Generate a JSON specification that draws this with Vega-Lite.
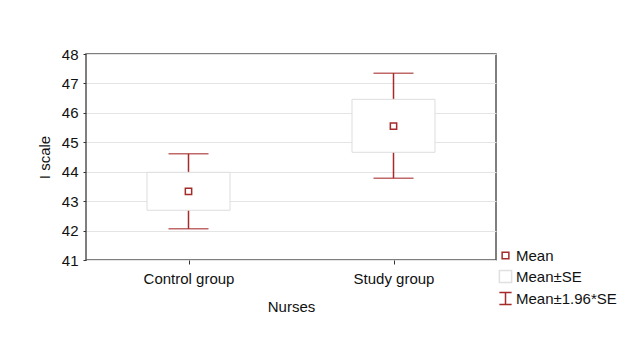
{
  "$schema": "https://vega.github.io/schema/vega-lite/v6.json",
  "width": 410,
  "height": 206,
  "autosize": {"type": "none"},
  "padding": {"left": 86, "top": 54, "right": 140, "bottom": 78},
  "config": {
    "font": "Liberation Sans",
    "view": {"stroke": "#555555", "strokeWidth": 1.5},
    "axis": {
      "labelFont": "Liberation Sans",
      "titleFont": "Liberation Sans",
      "labelColor": "#111111",
      "titleColor": "#111111",
      "titleFontWeight": "normal",
      "labelFontSize": 15,
      "titleFontSize": 15,
      "labelOverlap": false,
      "domain": false,
      "tickColor": "#333333",
      "gridColor": "#e4e4e4"
    }
  },
  "datasets": {
    "stats": [
      {"group": "Control group", "mean": 43.33, "seLo": 42.69, "seHi": 43.98, "ciLo": 42.06, "ciHi": 44.61},
      {"group": "Study group", "mean": 45.55, "seLo": 44.66, "seHi": 46.46, "ciLo": 43.78, "ciHi": 47.35}
    ],
    "legendItems": [
      {"item": "Mean"},
      {"item": "Mean±SE"},
      {"item": "Mean±1.96*SE"}
    ]
  },
  "layer": [
    {
      "data": {"name": "stats"},
      "mark": {"type": "rule", "color": "#a52a2a", "strokeWidth": 1.5},
      "encoding": {
        "x": {
          "field": "group", "type": "nominal",
          "scale": {"type": "point", "padding": 0.5},
          "axis": {"title": "Nurses", "labelAngle": 0, "labelPadding": 7, "titlePadding": 13, "tickSize": 4, "grid": false},
          "sort": null
        },
        "y": {
          "field": "ciLo", "type": "quantitative",
          "scale": {"domain": [41, 48], "nice": false, "zero": false},
          "axis": {"title": "I scale", "tickCount": 8, "values": [41, 42, 43, 44, 45, 46, 47, 48], "labelOverlap": false, "labelPadding": 5, "tickSize": 3, "titlePadding": 9, "grid": true}
        },
        "y2": {"field": "ciHi"}
      }
    },
    {
      "data": {"name": "stats"},
      "mark": {"type": "tick", "color": "#a52a2a", "thickness": 1.5, "size": 40, "orient": "horizontal"},
      "encoding": {
        "x": {"field": "group", "type": "nominal", "sort": null},
        "y": {"field": "ciLo", "type": "quantitative"}
      }
    },
    {
      "data": {"name": "stats"},
      "mark": {"type": "tick", "color": "#a52a2a", "thickness": 1.5, "size": 40, "orient": "horizontal"},
      "encoding": {
        "x": {"field": "group", "type": "nominal", "sort": null},
        "y": {"field": "ciHi", "type": "quantitative"}
      }
    },
    {
      "data": {"name": "stats"},
      "mark": {"type": "bar", "width": 83, "fill": "#ffffff", "stroke": "#dddddd", "strokeWidth": 1},
      "encoding": {
        "x": {"field": "group", "type": "nominal", "sort": null},
        "y": {"field": "seLo", "type": "quantitative"},
        "y2": {"field": "seHi"}
      }
    },
    {
      "data": {"name": "stats"},
      "mark": {"type": "point", "shape": "square", "filled": false, "size": 40, "color": "#a52a2a", "strokeWidth": 1.5, "opacity": 1},
      "encoding": {
        "x": {"field": "group", "type": "nominal", "sort": null},
        "y": {"field": "mean", "type": "quantitative"}
      }
    },
    {
      "data": {"name": "legendItems"},
      "mark": {"type": "point", "filled": false, "opacity": 0, "strokeWidth": 1.5},
      "encoding": {
        "shape": {
          "field": "item", "type": "nominal",
          "scale": {
            "domain": ["Mean", "Mean±SE", "Mean±1.96*SE"],
            "range": ["M-0.55,-0.55H0.55V0.55H-0.55Z", "M-1,-1H1V1H-1Z", "M-1,-1H1M0,-1V1M-1,1H1"]
          },
          "legend": {
            "title": null,
            "orient": "none",
            "legendX": 412,
            "legendY": 194,
            "symbolOpacity": 1,
            "symbolSize": 150,
            "symbolStrokeWidth": 1.5,
            "labelFontSize": 15,
            "labelFont": "Liberation Sans",
            "labelColor": "#111111",
            "labelOffset": 3,
            "rowPadding": 3,
            "symbolFillColor": "#ffffff"
          }
        },
        "stroke": {
          "field": "item", "type": "nominal",
          "scale": {
            "domain": ["Mean", "Mean±SE", "Mean±1.96*SE"],
            "range": ["#a52a2a", "#e0e0e0", "#a52a2a"]
          },
          "legend": null
        }
      }
    }
  ]
}
